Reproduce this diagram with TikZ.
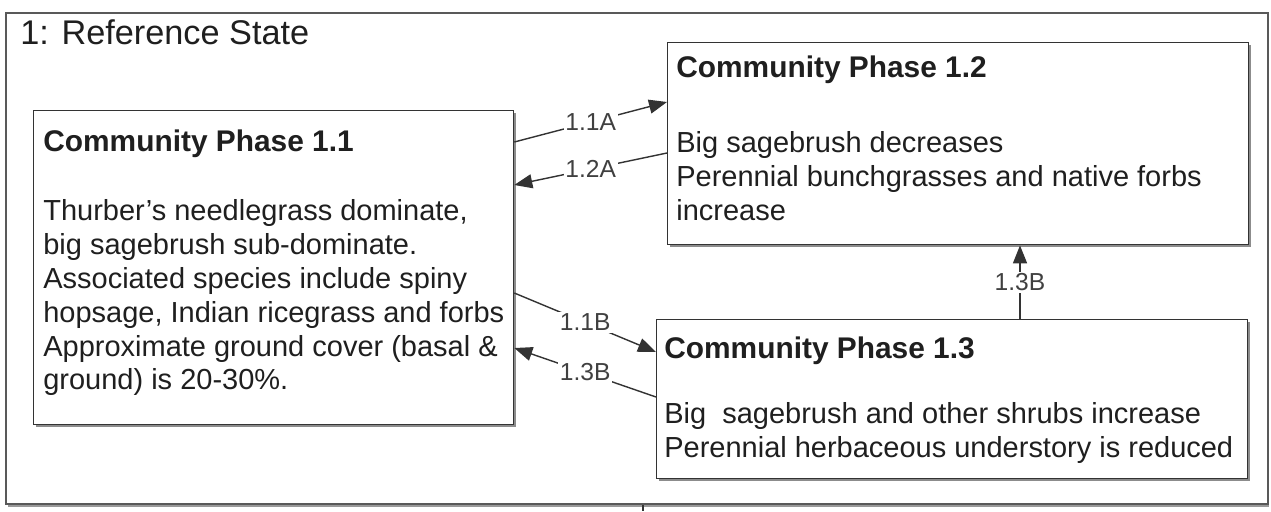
\documentclass[tikz,border=0pt]{standalone}
\usepackage{fontspec}
\setmainfont{Liberation Sans}
\usetikzlibrary{arrows.meta,shadows}

\tikzset{
  statebox/.style={draw=black!65, line width=1.3pt, fill=white,
    drop shadow={shadow xshift=0.03cm, shadow yshift=-0.05cm, fill=black!40, opacity=1}},
  phasebox/.style={draw=black!80, line width=0.8pt, fill=white, anchor=north west,
    drop shadow={shadow xshift=0.04cm, shadow yshift=-0.04cm, fill=black!45, opacity=1}},
  txt/.style={inner sep=0pt, anchor=north west, align=left, text=black!88},
  lbl/.style={fill=white, inner sep=1pt, text=black!75, font=\fontsize{14}{15}\selectfont},
  trans/.style={draw=black!80, line width=0.8pt, -{Triangle[length=0.36cm,width=0.28cm]}}
}

\begin{document}
\begin{tikzpicture}[x=0.02cm, y=-0.02cm]
  \useasboundingbox (0,0) rectangle (1271,511);

  % state frame
  \node[statebox, anchor=north west, minimum width=25.24cm, minimum height=9.82cm] (ref) at (5,12) {};
  \node[txt, font=\fontsize{19.5}{22}\selectfont] (title) at (20,19) {1: Reference State};

  % phase boxes
  \node[phasebox, minimum width=9.6cm, minimum height=6.28cm] (p11) at (33,110) {};
  \node[phasebox, minimum width=11.62cm, minimum height=4.04cm] (p12) at (667,42) {};
  \node[phasebox, minimum width=11.82cm, minimum height=3.18cm] (p13) at (656,319) {};

  % phase 1.1
  \node[txt, font=\fontsize{17}{19}\selectfont\bfseries] (t11) at (43,130) {Community Phase 1.1};
  \node[txt, font=\fontsize{16.5}{19.3}\selectfont] (b11) at (43,199)
    {Thurber’s needlegrass dominate,\\ big sagebrush sub-dominate.\\
     Associated species include spiny\\ hopsage, Indian ricegrass and forbs\\
     Approximate ground cover (basal \&\\ ground) is 20-30\%.};

  % phase 1.2
  \node[txt, font=\fontsize{17}{19}\selectfont\bfseries] (t12) at (676,56) {Community Phase 1.2};
  \node[txt, font=\fontsize{16.5}{19.3}\selectfont] (b12) at (676,131)
    {Big sagebrush decreases\\ Perennial bunchgrasses and native forbs\\ increase};

  % phase 1.3
  \node[txt, font=\fontsize{17}{19}\selectfont\bfseries] (t13) at (664,336) {Community Phase 1.3};
  \node[txt, font=\fontsize{16.5}{19.3}\selectfont] (b13) at (664,402)
    {Big\ \ sagebrush and other shrubs increase\\ Perennial herbaceous understory is reduced};

  % transitions
  \draw[trans] (p11.east |- 0,142) -- node[lbl] (l11a) {1.1A} (p12.west |- 0,102);
  \draw[trans] (p12.west |- 0,153) -- node[lbl] (l12a) {1.2A} (p11.east |- 0,185);
  \draw[trans] (p11.east |- 0,293) -- node[lbl] (l11b) {1.1B} (p13.west |- 0,352);
  \draw[trans] (p13.west |- 0,397) -- node[lbl] (l13b) {1.3B} (p11.east |- 0,348);
  \draw[trans] (p13.north -| 1020,0) -- node[lbl] (l13c) {1.3B} (p12.south -| 1020,0);

  % lead out of the state
  \coordinate (out) at (643,511);
  \draw[draw=black!80, line width=0.8pt] (ref.south -| out) -- (out);
\end{tikzpicture}
\end{document}
